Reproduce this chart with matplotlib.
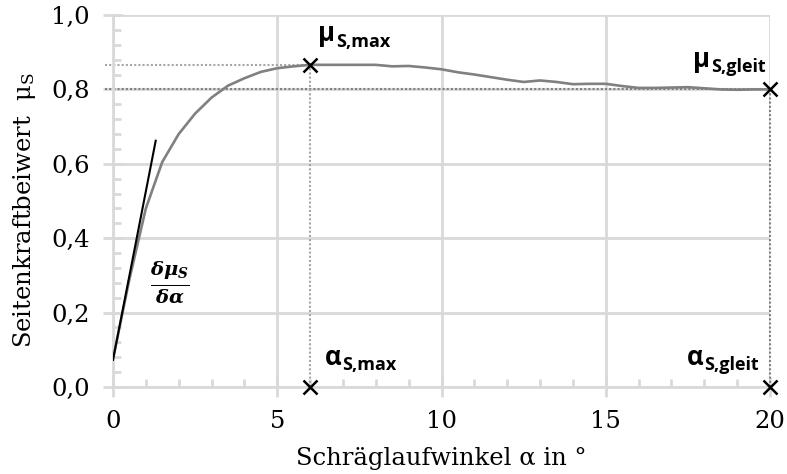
import matplotlib
matplotlib.use("Agg")
import matplotlib.pyplot as plt
from matplotlib.ticker import MultipleLocator, FuncFormatter

# ---- data ----
alpha = [0.0, 0.5, 1.0, 1.5, 2.0, 2.5, 3.0, 3.5, 4.0, 4.5, 5.0, 5.5, 6.0,
         6.5, 7.0, 7.5, 8.0, 8.5, 9.0, 9.5, 10.0, 10.5, 11.0, 11.5, 12.0,
         12.5, 13.0, 13.5, 14.0, 14.5, 15.0, 15.5, 16.0, 16.5, 17.0, 17.5,
         18.0, 18.5, 19.0, 19.5, 20.0]
mu_s = [0.075, 0.29, 0.48, 0.605, 0.68, 0.735, 0.778, 0.81, 0.83, 0.847, 0.857, 0.862, 0.866,
        0.866, 0.866, 0.866, 0.866, 0.862, 0.863, 0.859, 0.854, 0.846, 0.840, 0.833, 0.826,
        0.820, 0.824, 0.820, 0.814, 0.815, 0.815, 0.809, 0.804, 0.804, 0.805, 0.806,
        0.803, 0.800, 0.799, 0.800, 0.800]
tangent_x = [0.0, 1.3]
tangent_y = [0.073, 0.662]
alpha_max = 6.0
mu_max = 0.866
alpha_gleit = 20.0
mu_gleit = 0.80
x_ticks = [0, 5, 10, 15, 20]
y_ticks = [0.0, 0.2, 0.4, 0.6, 0.8, 1.0]

plt.rcParams['mathtext.fontset'] = 'custom'
plt.rcParams['mathtext.rm'] = 'DejaVu Serif'
plt.rcParams['mathtext.it'] = 'DejaVu Serif:italic:bold'
plt.rcParams['mathtext.sf'] = 'DejaVu Serif'

fig = plt.figure(figsize=(7.87, 4.74), dpi=100)
ax = fig.add_axes([113/787, 87/474, (770-113)/787, (387-15)/474])

grid_c = '#d9d9d9'
ax.set_xlim(0, 20)
ax.set_ylim(0, 1.0)
ax.set_xticks(x_ticks)
ax.set_yticks(y_ticks)
ax.xaxis.set_minor_locator(MultipleLocator(1))
ax.yaxis.set_minor_locator(MultipleLocator(0.04))
ax.yaxis.set_major_formatter(FuncFormatter(lambda v, p: f"{v:.1f}".replace('.', ',')))
ax.xaxis.set_major_formatter(FuncFormatter(lambda v, p: f"{int(v)}"))

serif = 'DejaVu Serif'
ax.tick_params(which='major', direction='inout', length=15, width=2, color=grid_c,
               labelsize=17.5, pad=9)
ax.tick_params(which='minor', direction='in', length=6, width=2, color=grid_c)
for lab in ax.get_xticklabels() + ax.get_yticklabels():
    lab.set_family(serif)
ax.grid(True, which='major', color=grid_c, linewidth=2)
ax.set_axisbelow(True)
for s in ['top', 'right']:
    ax.spines[s].set_visible(False)
for s in ['left', 'bottom']:
    ax.spines[s].set_color(grid_c)
    ax.spines[s].set_linewidth(2)

# reference dotted lines
light = '#a6a6a6'
dark = '#808080'
ax.plot([-0.25, alpha_max], [mu_max, mu_max], color=light, lw=1.5, ls=(0, (1, 1)), clip_on=False, zorder=2)
ax.plot([-0.25, alpha_gleit], [mu_gleit, mu_gleit], color=dark, lw=1.5, ls=(0, (1, 1)), clip_on=False, zorder=2)
ax.plot([alpha_max, alpha_max], [0, mu_max], color=light, lw=1.5, ls=(0, (1, 1)), zorder=2)
ax.plot([alpha_gleit, alpha_gleit], [0, mu_gleit], color=dark, lw=1.5, ls=(0, (1, 1)), clip_on=False, zorder=2)

# curve and tangent
ax.plot(alpha, mu_s, color='#808080', lw=1.9, zorder=3)
ax.plot(tangent_x, tangent_y, color='black', lw=1.5, zorder=4)

# markers
ax.plot([alpha_max, alpha_gleit, alpha_max, alpha_gleit], [mu_max, mu_gleit, 0, 0],
        ls='none', marker='x', color='black', markersize=10, mew=1.8, clip_on=False, zorder=5)


# annotations: big symbol + small bold subscript
def sym_label(x, y, sym, sub):
    t = ax.text(x, y, sym, fontsize=18.5, fontweight='bold', family='Open Sans',
                ha='left', va='baseline', zorder=6)
    ax.annotate(sub, xy=(1, 0), xycoords=t, xytext=(0.5, 0.5), textcoords='offset points',
                fontsize=13, fontweight='bold', family='Open Sans',
                ha='left', va='baseline', zorder=6)


sym_label(6.24, 0.929, 'μ', 'S,max')
sym_label(17.66, 0.860, 'μ', 'S,gleit')
sym_label(6.45, 0.059, 'α', 'S,max')
sym_label(17.47, 0.059, 'α', 'S,gleit')

ax.text(1.72, 0.279, r'$\frac{\delta\mu_S}{\delta\alpha}$', fontsize=20,
        ha='center', va='center')

ax.set_xlabel('Schräglaufwinkel α in °', family=serif, fontsize=17.5, labelpad=10)
ax.set_ylabel(r'Seitenkraftbeiwert  μ$_\mathsf{S}$', family=serif, fontsize=17.5,
              labelpad=10, y=0.4745)

fig.savefig('out.png', dpi=100)
